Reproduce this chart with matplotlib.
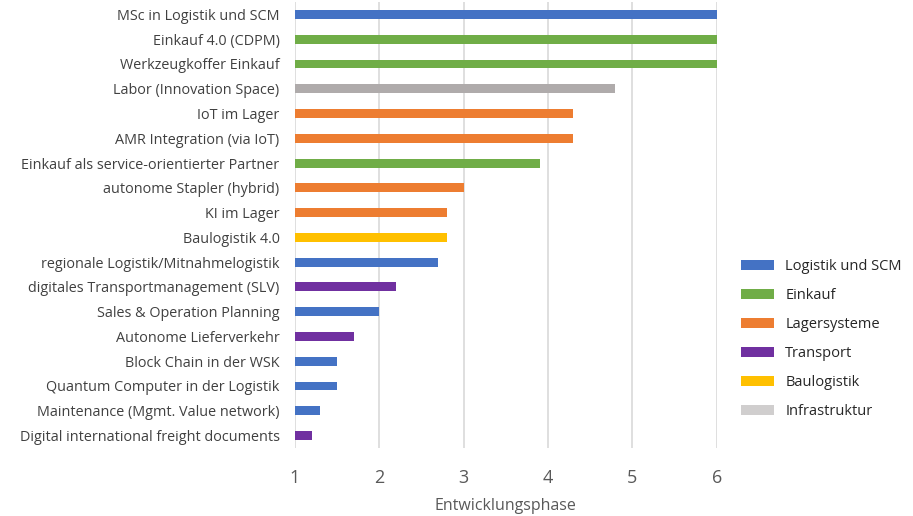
import matplotlib.pyplot as plt
from matplotlib.patches import Patch

# data (top to bottom)
labels = ['MSc in Logistik und SCM', 'Einkauf 4.0 (CDPM)', 'Werkzeugkoffer Einkauf',
          'Labor (Innovation Space)', 'IoT im Lager', 'AMR Integration (via IoT)',
          'Einkauf als service-orientierter Partner', 'autonome Stapler (hybrid)',
          'KI im Lager', 'Baulogistik 4.0', 'regionale Logistik/Mitnahmelogistik',
          'digitales Transportmanagement (SLV)', 'Sales & Operation Planning',
          'Autonome Lieferverkehr', 'Block Chain in der WSK',
          'Quantum Computer in der Logistik', 'Maintenance (Mgmt. Value network)',
          'Digital international freight documents']
phase = [6, 6, 6, 4.8, 4.3, 4.3, 3.9, 3.0, 2.8, 2.8, 2.7, 2.2, 2.0, 1.7, 1.5, 1.5, 1.3, 1.2]
category = ['Logistik und SCM', 'Einkauf', 'Einkauf', 'Infrastruktur', 'Lagersysteme',
            'Lagersysteme', 'Einkauf', 'Lagersysteme', 'Lagersysteme', 'Baulogistik',
            'Logistik und SCM', 'Transport', 'Logistik und SCM', 'Transport',
            'Logistik und SCM', 'Logistik und SCM', 'Logistik und SCM', 'Transport']
legend_names = ['Logistik und SCM', 'Einkauf', 'Lagersysteme', 'Transport', 'Baulogistik', 'Infrastruktur']
x_ticks = [1, 2, 3, 4, 5, 6]

bar_colors = {'Logistik und SCM': '#4472C4', 'Einkauf': '#70AD47', 'Lagersysteme': '#ED7D31',
              'Transport': '#7030A0', 'Baulogistik': '#FFC000', 'Infrastruktur': '#AFABAB'}
legend_colors = dict(bar_colors)
legend_colors['Infrastruktur'] = '#D0CECE'

plt.rcParams['font.family'] = ['Open Sans', 'DejaVu Sans']

fig = plt.figure(figsize=(9.13, 5.16), dpi=100)
ax = fig.add_axes([0.323, 0.132, 0.462, 0.864])

ypos = list(range(len(labels)))
ax.barh(ypos, [v - 1 for v in phase], left=1, height=0.36,
        color=[bar_colors[c] for c in category], zorder=3)

ax.set_xlim(1, 6)
ax.set_ylim(len(labels) - 0.5, -0.5)
ax.set_xticks(x_ticks)
ax.set_yticks(ypos)
ax.set_yticklabels(labels, fontsize=10.4, color='#404040')
ax.tick_params(axis='x', labelsize=13, colors='#595959', length=0, pad=15)
ax.tick_params(axis='y', length=0, pad=11)
ax.grid(axis='x', color='#d9d9d9', linewidth=1.2, zorder=0)
for s in ['top', 'bottom', 'right', 'left']:
    ax.spines[s].set_visible(False)
ax.set_xlabel('Entwicklungsphase', fontsize=11.5, color='#595959', labelpad=8)

handles = [Patch(facecolor=legend_colors[n], label=n) for n in legend_names]
fig.legend(handles=handles, loc='center left', bbox_to_anchor=(0.797, 0.343),
           frameon=False, fontsize=10.5, handlelength=2.3, handleheight=0.68,
           labelspacing=0.95, handletextpad=0.75, labelcolor='#262626')

fig.savefig('out.png', dpi=100)
